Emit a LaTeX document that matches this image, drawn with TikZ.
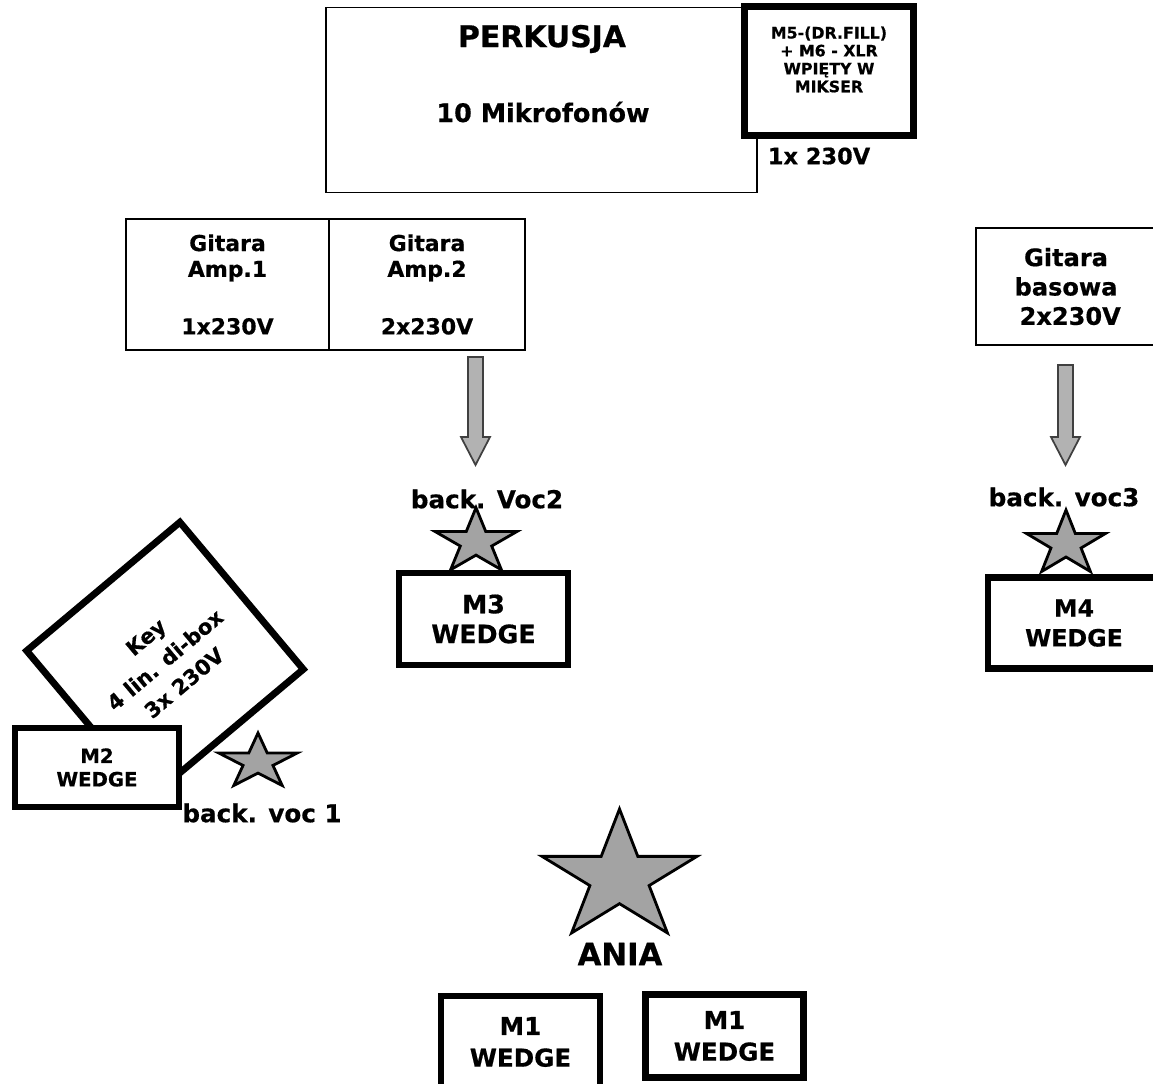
\documentclass[tikz,border=0pt]{standalone}
\usepackage{fontspec}
\setmainfont{DejaVu Sans}[BoldFeatures = {FakeBold = 0.6}]
\usetikzlibrary{shapes.geometric}

\newcommand{\px}{0.02cm}
\newcommand{\fsz}[2]{\fontsize{#1}{#2}\selectfont\bfseries}

\tikzset{
  thinbox/.style = {draw = black, line width = 1pt, fill = white, inner sep = 0pt, align = center},
  thickbox/.style = {draw = black, line width = 3.9pt, fill = white, inner sep = 0pt, align = center},
  vocstar/.style = {shape = star, star points = 5, star point ratio = 2.618,
                    draw = black, line width = 1.6pt, fill = black!36, inner sep = 0pt, transform shape},
  blockarrow/.style = {draw = black!75, line width = 1pt, fill = black!30},
}

\begin{document}
\begin{tikzpicture}[x = \px, y = -\px]
        \useasboundingbox (0, 0) rectangle (1153, 1083);
        \clip (0, 0) rectangle (1153, 1083);

        % ------------------------------------------------------------------------
        % Perkusja
        \node[thinbox, minimum width = 431*\px, minimum height = 185*\px] at (541.5, 100) (perk) {};
        \node[font = \fsz{17}{20}] at (542, 39) (perktitle) {PERKUSJA};
        \node[font = \fsz{14.5}{17}] at (543, 112) (perkmics) {10 Mikrofonów};

        \node[thickbox, minimum width = 169*\px, minimum height = 129*\px] at (829, 71) (m5) {};
        \node[font = \fsz{9}{10.2}, align = center] at (829, 59.5) (m5txt)
          {M5-(DR.FILL)\\+ M6 - XLR\\WPIĘTY W\\MIKSER};
        \node[font = \fsz{12.8}{15}] at (819, 156) (m5pwr) {1x 230V};

        % ------------------------------------------------------------------------
        % Gitary
        \node[thinbox, minimum width = 203*\px, minimum height = 131*\px, font = \fsz{12.5}{14.7}]
          at (227.5, 284.5) (amp1) {Gitara\\Amp.1\\[18pt]1x230V};
        \node[thinbox, minimum width = 196*\px, minimum height = 131*\px, font = \fsz{12.5}{14.7}]
          at (427, 284.5) (amp2) {Gitara\\Amp.2\\[18pt]2x230V};
        \node[thinbox, minimum width = 180*\px, minimum height = 117*\px, font = \fsz{13.7}{16.7}]
          at (1066, 286.5) (bass) {Gitara\\basowa\\\ 2x230V};

        \coordinate (arr2top) at (475.5, 357);
        \coordinate (arr3top) at (1065.5, 365);
        \draw[blockarrow] (arr2top) ++(-7.5, 0) -- ++(15, 0) -- ++(0, 80) -- ++(7, 0)
          -- ++(-14.5, 28) -- ++(-14.5, -28) -- ++(7, 0) -- cycle;
        \draw[blockarrow] (arr3top) ++(-7.5, 0) -- ++(15, 0) -- ++(0, 72) -- ++(7, 0)
          -- ++(-14.5, 28) -- ++(-14.5, -28) -- ++(7, 0) -- cycle;

        % ------------------------------------------------------------------------
        % Chorki
        \node[font = \fsz{14}{16}] at (487, 499) (voc2) {back. Voc2};
        \node[vocstar, minimum size = 68.6*\px, xscale = 1.26] at (476, 542) (voc2star) {};
        \node[thickbox, minimum width = 169*\px, minimum height = 92*\px, font = \fsz{14.4}{17}]
          at (483.5, 619) (m3) {M3\\WEDGE};

        \node[font = \fsz{14}{16}] at (1064, 497) (voc3) {back. voc3};
        \node[vocstar, minimum size = 68*\px, xscale = 1.22] at (1066, 544) (voc3star) {};
        \node[thickbox, minimum width = 172*\px, minimum height = 91*\px, font = \fsz{13.5}{17}]
          at (1074, 623) (m4) {M4\\WEDGE};

        \node[thickbox, rotate = 40, minimum width = 200*\px, minimum height = 192*\px, font = \fsz{12}{17}]
          at (165, 660) (key) {Key\\4 lin. di-box\\3x 230V};
        \node[thickbox, minimum width = 164*\px, minimum height = 79*\px, font = \fsz{11.2}{13.3}]
          at (97, 767.5) (m2) {M2\\WEDGE};
        \node[vocstar, minimum size = 58*\px, xscale = 1.42] at (258, 762) (voc1star) {};
        \node[font = \fsz{14}{16}] at (262, 813) (voc1) {back. voc 1};

        % ------------------------------------------------------------------------
        % Wokal
        \node[vocstar, minimum size = 137*\px, xscale = 1.19] at (619.5, 877.5) (aniastar) {};
        \node[font = \fsz{17.5}{20}] at (620, 954) (ania) {ANIA};

        \node[thickbox, minimum width = 159*\px, minimum height = 92*\px, font = \fsz{14}{18}]
          at (520.5, 1042) (m1a) {M1\\WEDGE};
        \node[thickbox, minimum width = 158*\px, minimum height = 83*\px, font = \fsz{14}{18}]
          at (724.5, 1036) (m1b) {M1\\WEDGE};
\end{tikzpicture}
\end{document}
